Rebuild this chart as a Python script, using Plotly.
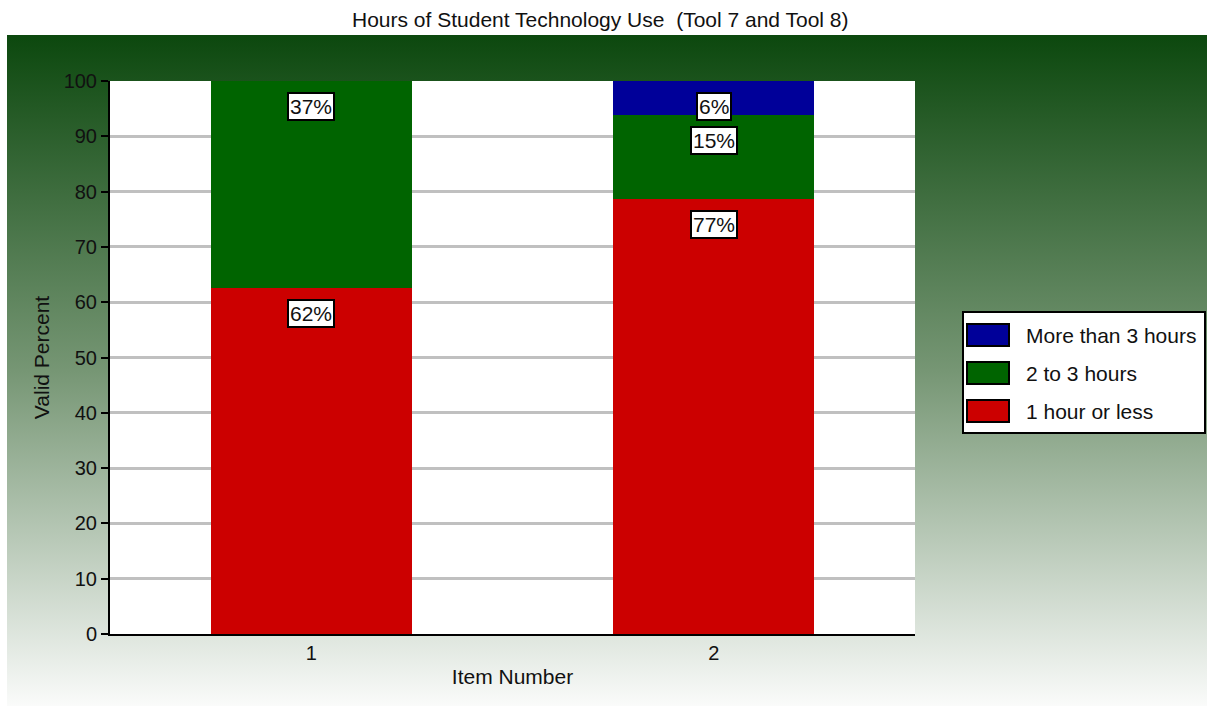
import urllib.parse
import plotly.graph_objects as go

# ---- data ----
items = [1, 2]
item_labels = ["1", "2"]
one_hour_or_less = [62.6, 78.7]
two_to_three_hours = [37.4, 15.2]
more_than_three_hours = [0.0, 6.1]
labels_one_hour = ["62%", "77%"]
labels_two_three = ["37%", "15%"]
labels_more_three = ["", "6%"]
series_names = ["1 hour or less", "2 to 3 hours", "More than 3 hours"]
series_colors = ["#cc0000", "#006400", "#000099"]
y_ticks = list(range(0, 101, 10))

W, H = 1207, 706
L, R, T, B = 110, 292, 81, 72
PW, PH = W - L - R, H - T - B


def px_x(px):
    return (px - L) / PW


def px_y(py):
    return (H - B - py) / PH


FONT = "Liberation Sans, Arial, sans-serif"
TXT = "#111111"
fig = go.Figure()

series = [one_hour_or_less, two_to_three_hours, more_than_three_hours]
labels = [labels_one_hour, labels_two_three, labels_more_three]
for name, vals, col in zip(series_names, series, series_colors):
    fig.add_trace(go.Bar(x=items, y=vals, name=name, marker_color=col,
                         marker_line_width=0, width=0.5, showlegend=False))

# value labels at the top of each segment
annotations = []
cum = [0.0] * len(items)
for vals, labs in zip(series, labels):
    for i, (v, lab) in enumerate(zip(vals, labs)):
        cum[i] += v
        if lab:
            annotations.append(dict(x=items[i], y=cum[i], xref="x", yref="y",
                                    text=lab, showarrow=False, yanchor="top",
                                    yshift=-11, bgcolor="white",
                                    bordercolor="black", borderwidth=2,
                                    borderpad=1,
                                    font=dict(family=FONT, size=21, color=TXT)))

# title
annotations.append(dict(text="Hours of Student Technology Use  (Tool 7 and Tool 8)",
                        x=px_x(600), y=px_y(19), xref="paper", yref="paper",
                        xanchor="center", yanchor="middle",
                        showarrow=False, font=dict(family=FONT, size=21, color=TXT)))

shapes = []
# white plot area (drawn above the gradient panel, below grid and bars)
shapes.append(dict(type="rect", xref="paper", yref="paper", x0=0, x1=1, y0=0, y1=1,
                   fillcolor="white", line=dict(width=0), layer="below"))

# manual legend
shapes.append(dict(type="rect", xref="paper", yref="paper",
                   x0=px_x(963), x1=px_x(1205), y0=px_y(433), y1=px_y(312),
                   fillcolor="white", line=dict(color="black", width=2), layer="above"))
legend_rows = [(2, 335), (1, 373), (0, 411)]
for idx, cy in legend_rows:
    shapes.append(dict(type="rect", xref="paper", yref="paper",
                       x0=px_x(967), x1=px_x(1009), y0=px_y(cy + 11), y1=px_y(cy - 11),
                       fillcolor=series_colors[idx], line=dict(color="black", width=2),
                       layer="above"))
    annotations.append(dict(text=series_names[idx], x=px_x(1024), y=px_y(cy),
                            xref="paper", yref="paper", xanchor="left", yanchor="middle",
                            showarrow=False, font=dict(family=FONT, size=21, color=TXT)))

# gradient background panel
svg = ('<svg xmlns="http://www.w3.org/2000/svg" width="100" height="100" preserveAspectRatio="none">'
       '<defs><linearGradient id="g" x1="0" y1="0" x2="0" y2="1">'
       '<stop offset="0" stop-color="rgb(12,72,14)"/>'
       '<stop offset="0.5" stop-color="rgb(118,150,116)"/>'
       '<stop offset="1" stop-color="rgb(250,251,250)"/>'
       '</linearGradient></defs>'
       '<rect x="0" y="0" width="100" height="100" fill="url(#g)"/></svg>')
src = "data:image/svg+xml;charset=utf-8," + urllib.parse.quote(svg)

fig.update_layout(
    width=W, height=H,
    margin=dict(l=L, r=R, t=T, b=B),
    barmode="stack",
    paper_bgcolor="white",
    plot_bgcolor="white",
    showlegend=False,
    annotations=annotations,
    shapes=shapes,
    images=[dict(source=src, xref="paper", yref="paper",
                 x=px_x(7), y=px_y(35), sizex=1200 / PW, sizey=671 / PH,
                 xanchor="left", yanchor="top", sizing="stretch", layer="below")],
    xaxis=dict(range=[0.5, 2.5], tickvals=items, ticktext=item_labels,
               showgrid=False, zeroline=False, showline=True, linecolor="black",
               linewidth=2, ticks="", tickfont=dict(family=FONT, size=20, color=TXT),
               title=dict(text="Item Number", standoff=6,
                          font=dict(family=FONT, size=21, color=TXT))),
    yaxis=dict(range=[0, 100], tickvals=y_ticks, showgrid=True, gridcolor="#c0c0c0",
               gridwidth=3, zeroline=False, showline=True, linecolor="black",
               linewidth=2, ticks="outside", ticklen=7, tickcolor="black", tickwidth=2,
               tickfont=dict(family=FONT, size=20, color=TXT),
               title=dict(text="Valid Percent", standoff=8,
                          font=dict(family=FONT, size=21, color=TXT))),
)

fig.write_html("out.html", config={"displayModeBar": False},
               post_script="document.body.style.margin='0';document.body.style.overflow='hidden';")
